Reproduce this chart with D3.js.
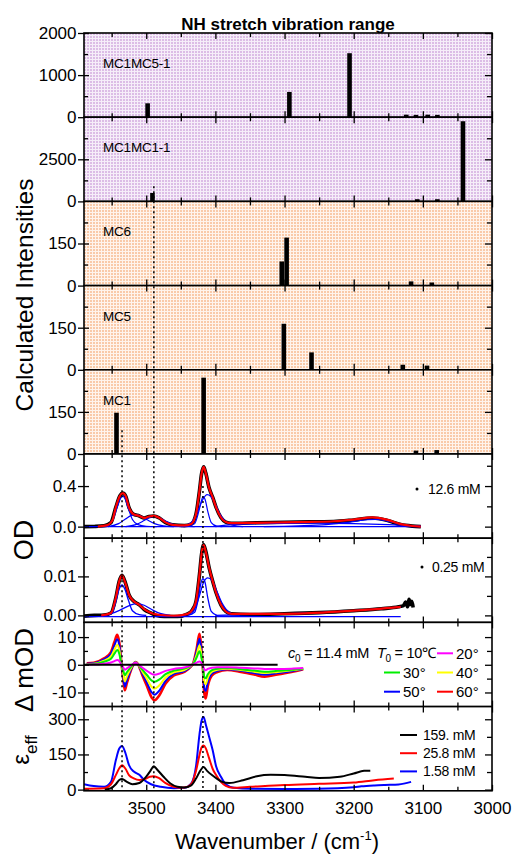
<!DOCTYPE html>
<html>
<head>
<meta charset="utf-8">
<script src="https://cdnjs.cloudflare.com/ajax/libs/d3/7.8.5/d3.min.js"></script>
<style>
body { margin: 0; background: #fff; }
svg { font-family: "Liberation Sans", Arial, sans-serif; }
</style>
</head>
<body>
<svg id="chart" width="514" height="856"></svg>
<script>
var xDomain = [3590, 3000];
var xMajor = [3500, 3400, 3300, 3200, 3100, 3000];
var xMinor = [3550, 3450, 3350, 3250, 3150, 3050];

// calculated stick spectra: [wavenumber, intensity]
var mc1mc5Bars = [[3498, 330], [3293, 600], [3206, 1520], [3124, 60], [3110, 55], [3093, 60], [3079, 55]];
var mc1mc1Bars = [[3491, 500], [3108, 130], [3079, 130], [3042, 4760]];
var mc6Bars = [[3304, 86], [3297, 171], [3117, 15], [3087, 11]];
var mc5Bars = [[3301, 164], [3261, 62], [3129, 18], [3094, 15]];
var mc1Bars = [[3543, 147], [3417, 272], [3110, 12], [3080, 14]];
var barNames = ["MC1MC5-1", "MC1MC1-1", "MC6", "MC5", "MC1"];

// OD, 12.6 mM
var od12Data = [[3590, 0.0], [3575, 0.002], [3561, 0.008], [3551, 0.04], [3544, 0.19], [3538, 0.305], [3534, 0.33], [3530, 0.305], [3525, 0.19], [3519, 0.125], [3510, 0.105], [3503, 0.085], [3496, 0.1], [3489, 0.105], [3481, 0.085], [3472, 0.04], [3462, 0.018], [3445, 0.01], [3435, 0.025], [3428, 0.125], [3423, 0.355], [3420, 0.52], [3417, 0.59], [3414, 0.53], [3409, 0.38], [3404, 0.29], [3399, 0.19], [3392, 0.09], [3385, 0.045], [3377, 0.032], [3340, 0.038], [3300, 0.043], [3260, 0.047], [3229, 0.05], [3200, 0.066], [3173, 0.085], [3151, 0.06], [3132, 0.02], [3115, 0.005], [3103, 0.0]];
var od12Fit = [[3570, 0.001], [3556, 0.015], [3549, 0.06], [3544, 0.19], [3538, 0.305], [3534, 0.33], [3530, 0.305], [3525, 0.19], [3519, 0.125], [3510, 0.105], [3503, 0.086], [3496, 0.1], [3489, 0.106], [3481, 0.086], [3472, 0.042], [3462, 0.018], [3445, 0.012], [3435, 0.027], [3428, 0.125], [3423, 0.355], [3420, 0.52], [3417, 0.59], [3414, 0.53], [3409, 0.38], [3404, 0.29], [3399, 0.19], [3392, 0.09], [3385, 0.045], [3377, 0.034], [3340, 0.038], [3300, 0.042], [3260, 0.047], [3229, 0.053], [3200, 0.07], [3173, 0.092], [3151, 0.066], [3132, 0.025], [3115, 0.006], [3103, 0.0]];
var od12Parts = [
  [[3565, 0], [3555, 0.015], [3548, 0.07], [3542, 0.19], [3537, 0.28], [3534, 0.3], [3531, 0.28], [3526, 0.18], [3520, 0.07], [3512, 0.02], [3500, 0.004], [3485, 0]],
  [[3555, 0], [3540, 0.03], [3530, 0.075], [3522, 0.108], [3516, 0.118], [3508, 0.105], [3498, 0.065], [3488, 0.03], [3475, 0.008], [3460, 0]],
  [[3530, 0], [3515, 0.02], [3503, 0.06], [3495, 0.09], [3489, 0.1], [3482, 0.09], [3472, 0.055], [3460, 0.02], [3445, 0.004], [3430, 0]],
  [[3440, 0], [3430, 0.03], [3424, 0.15], [3420, 0.26], [3418, 0.295], [3415, 0.27], [3411, 0.15], [3406, 0.04], [3398, 0.005], [3390, 0]],
  [[3450, 0], [3435, 0.04], [3425, 0.16], [3418, 0.27], [3412, 0.315], [3407, 0.3], [3400, 0.22], [3393, 0.12], [3385, 0.05], [3375, 0.015], [3360, 0]],
  [[3330, 0], [3280, 0.008], [3240, 0.02], [3205, 0.045], [3180, 0.068], [3168, 0.072], [3152, 0.055], [3135, 0.03], [3118, 0.01], [3103, 0]],
  [[3400, 0], [3385, 0.015], [3350, 0.028], [3300, 0.033], [3250, 0.035], [3200, 0.03], [3150, 0.02], [3103, 0.005]],
  [[3590, 0], [3103, 0]]
];

// OD, 0.25 mM
var od025Data = [[3590, -0.0002], [3575, 0.0], [3561, 0.0001], [3551, 0.0006], [3544, 0.0045], [3539, 0.0088], [3535, 0.0103], [3530, 0.0083], [3525, 0.0053], [3518, 0.0036], [3510, 0.0027], [3503, 0.0015], [3493, 0.0006], [3486, 0.0], [3474, -0.0003], [3455, -0.0003], [3440, 0.0004], [3433, 0.0015], [3428, 0.0036], [3423, 0.0105], [3420, 0.0157], [3417, 0.0181], [3414, 0.0165], [3409, 0.0122], [3404, 0.0088], [3399, 0.0058], [3392, 0.0027], [3385, 0.001], [3377, 0.0004], [3350, 0.0002], [3300, 0.0004], [3250, 0.0007], [3200, 0.0012], [3160, 0.0017], [3135, 0.0022], [3128, 0.0025], [3125, 0.0034], [3122, 0.0022], [3120, 0.0041], [3118, 0.0028], [3116, 0.0036], [3114, 0.002]];
var od025Fit = [[3565, 0], [3551, 0.0006], [3544, 0.0045], [3539, 0.0088], [3535, 0.0102], [3530, 0.0082], [3525, 0.0053], [3518, 0.0036], [3510, 0.0027], [3503, 0.0016], [3493, 0.0006], [3480, 0.0001], [3460, -0.0001], [3440, 0.0004], [3433, 0.0015], [3428, 0.0036], [3423, 0.0105], [3420, 0.0157], [3417, 0.018], [3414, 0.0164], [3409, 0.0122], [3404, 0.0088], [3399, 0.0058], [3392, 0.0027], [3385, 0.001], [3377, 0.0004], [3300, 0.0004], [3200, 0.0012], [3132, 0.0022]];
var od025Parts = [
  [[3560, 0], [3550, 0.0005], [3544, 0.0035], [3539, 0.0068], [3535, 0.0078], [3531, 0.0068], [3526, 0.004], [3520, 0.0012], [3510, 0.0002], [3500, 0]],
  [[3565, 0], [3550, 0.0005], [3535, 0.0016], [3522, 0.0027], [3513, 0.003], [3503, 0.0026], [3492, 0.0015], [3480, 0.0005], [3465, 0]],
  [[3440, 0], [3430, 0.0008], [3425, 0.004], [3421, 0.0082], [3418, 0.0094], [3415, 0.0085], [3411, 0.0045], [3406, 0.001], [3398, 0]],
  [[3445, 0], [3432, 0.001], [3424, 0.0045], [3417, 0.0085], [3411, 0.0096], [3405, 0.009], [3398, 0.0062], [3390, 0.003], [3380, 0.0008], [3365, 0]],
  [[3400, 0], [3350, 0.0002], [3300, 0.0004], [3250, 0.0007], [3200, 0.0012], [3132, 0.0022]],
  [[3590, -0.0003], [3132, -0.0003]]
];

// difference spectra, mOD
var dT20 = [[3586, 0.1], [3576, 0.1], [3561, 0.4], [3551, 0.8], [3546, 1.3], [3542, 1.7], [3539, 1.3], [3536, 0.1], [3533, -1.1], [3531, -1.8], [3528, -1.3], [3523, -0.4], [3518, 0.5], [3516, 0.8], [3512, 0.2], [3506, -1.0], [3499, -2.2], [3492, -3.3], [3488, -3.6], [3481, -3.2], [3472, -2.2], [3460, -1.5], [3445, -1.0], [3436, -0.3], [3432, 0.2], [3427, 0.8], [3423, 1.2], [3421, 0.9], [3418, -0.3], [3416, -1.7], [3414, -2.0], [3411, -1.5], [3405, -1.1], [3397, -0.9], [3383, -0.9], [3363, -1.1], [3344, -1.3], [3329, -1.5], [3310, -1.5], [3290, -1.4], [3273, -1.2]];
var dT30 = [[3586, 0.2], [3576, 0.3], [3561, 1.1], [3551, 2.2], [3546, 4.0], [3542, 5.3], [3539, 4.0], [3536, 0.3], [3533, -2.3], [3531, -3.8], [3528, -2.7], [3523, -1.0], [3518, 0.5], [3516, 0.9], [3512, 0.2], [3506, -1.7], [3499, -3.7], [3492, -5.7], [3488, -6.1], [3481, -5.3], [3472, -3.4], [3460, -2.1], [3445, -1.4], [3436, -0.4], [3432, 0.3], [3427, 2.7], [3423, 4.9], [3421, 3.6], [3418, -0.7], [3416, -4.4], [3414, -4.9], [3411, -3.4], [3405, -1.9], [3397, -1.4], [3383, -1.2], [3363, -1.6], [3344, -2.1], [3329, -2.5], [3310, -2.2], [3290, -1.8], [3273, -1.3]];
var dT40 = [[3586, 0.3], [3576, 0.4], [3561, 1.5], [3551, 3.0], [3546, 5.5], [3542, 7.2], [3539, 5.4], [3536, 0.4], [3533, -3.6], [3531, -6.0], [3528, -4.2], [3523, -1.6], [3518, 0.4], [3516, 0.9], [3512, 0.2], [3506, -2.3], [3499, -5.1], [3492, -8.0], [3488, -8.6], [3481, -7.4], [3472, -4.6], [3460, -2.7], [3445, -1.9], [3436, -0.5], [3432, 0.4], [3427, 3.8], [3423, 7.0], [3421, 5.0], [3418, -1.0], [3416, -6.3], [3414, -7.0], [3411, -4.7], [3405, -2.5], [3397, -1.8], [3383, -1.4], [3363, -1.9], [3344, -2.5], [3329, -3.0], [3310, -2.6], [3290, -2.0], [3273, -1.4]];
var dT50 = [[3586, 0.4], [3576, 0.6], [3561, 2.0], [3551, 4.0], [3546, 7.0], [3542, 9.2], [3539, 7.0], [3536, 0.6], [3533, -4.8], [3531, -7.9], [3528, -5.6], [3523, -2.2], [3518, 0.3], [3516, 0.9], [3512, 0.2], [3506, -3.0], [3499, -6.5], [3492, -10.0], [3488, -10.8], [3481, -9.3], [3472, -5.8], [3460, -3.3], [3445, -2.3], [3436, -0.7], [3432, 0.5], [3427, 5.0], [3423, 9.4], [3421, 6.8], [3418, -1.4], [3416, -8.6], [3414, -9.5], [3411, -6.3], [3405, -3.2], [3397, -2.2], [3383, -1.6], [3363, -2.2], [3344, -3.0], [3329, -3.6], [3310, -3.0], [3290, -2.3], [3273, -1.5]];
var dT60 = [[3586, 0.5], [3576, 0.7], [3561, 2.3], [3551, 4.6], [3546, 8.2], [3542, 10.8], [3539, 8.1], [3536, 0.9], [3533, -5.6], [3531, -9.2], [3528, -6.6], [3523, -2.6], [3518, 0.3], [3516, 1.0], [3512, 0.3], [3506, -3.5], [3499, -7.7], [3492, -11.9], [3488, -12.8], [3481, -11.0], [3472, -6.8], [3460, -3.8], [3445, -2.6], [3436, -0.8], [3432, 0.6], [3427, 5.9], [3423, 11.2], [3421, 8.0], [3418, -1.7], [3416, -10.4], [3414, -12.2], [3411, -7.7], [3405, -3.8], [3397, -2.6], [3383, -1.9], [3363, -2.6], [3344, -3.5], [3329, -4.3], [3310, -3.5], [3290, -2.6], [3273, -1.6]];
var dZero = [[3590, 0], [3310, 0]];
var tempLabels = ["20°", "30°", "40°", "50°", "60°"];
var tempColors = ["#ff00ff", "#00ee00", "#ffff00", "#0000ff", "#ff0000"];
var tempSeries = [dT20, dT30, dT40, dT50, dT60];

// effective extinction
var eps159 = [[3560, 0], [3551, 6], [3544, 23], [3539, 41], [3535, 45], [3528, 33], [3520, 23], [3510, 28], [3500, 55], [3494, 80], [3489, 100], [3484, 85], [3475, 55], [3465, 26], [3455, 12], [3445, 9], [3435, 18], [3428, 47], [3422, 80], [3417, 96], [3412, 80], [3405, 62], [3398, 47], [3390, 33], [3380, 28], [3360, 40], [3340, 57], [3320, 63], [3300, 62], [3270, 55], [3250, 50], [3220, 55], [3200, 69], [3185, 80], [3176, 81]];
var eps258 = [[3590, 4], [3561, 6], [3551, 23], [3544, 62], [3539, 91], [3535, 104], [3530, 89], [3525, 62], [3518, 48], [3510, 41], [3500, 47], [3495, 55], [3489, 57], [3482, 50], [3472, 28], [3460, 12], [3450, 8], [3440, 12], [3433, 33], [3428, 80], [3423, 148], [3420, 180], [3417, 188], [3414, 177], [3409, 133], [3404, 89], [3399, 62], [3392, 33], [3385, 16], [3375, 8], [3350, 12], [3300, 20], [3250, 25], [3200, 30], [3170, 40], [3142, 47]];
var eps158 = [[3590, 23], [3576, 15], [3561, 12], [3551, 33], [3544, 125], [3539, 175], [3535, 186], [3530, 155], [3525, 105], [3518, 77], [3510, 63], [3503, 41], [3493, 23], [3479, 12], [3460, 6], [3445, 8], [3435, 26], [3428, 100], [3423, 236], [3420, 294], [3417, 310], [3414, 279], [3409, 224], [3404, 169], [3399, 100], [3392, 55], [3385, 23], [3373, 8], [3348, 4], [3300, 3], [3252, 4], [3200, 10], [3189, 14], [3170, 18], [3155, 20], [3135, 22], [3117, 33]];
var concLabels = ["159. mM", "25.8 mM", "1.58 mM"];
var concColors = ["#000000", "#ff0000", "#0000ff"];
var concSeries = [eps159, eps258, eps158];

var guideWavenumbers = [3535, 3489, 3418];

var LEFT = 84, RIGHT = 492, TOP = 33, PANEL_H = 84.2;
var svg = d3.select("#chart");
var x = d3.scaleLinear().domain(xDomain).range([LEFT, RIGHT]);
var defs = svg.append("defs");

function addPattern(id, base, dot) {
    var p = defs.append("pattern").attr("id", id)
        .attr("patternUnits", "userSpaceOnUse")
        .attr("width", 3).attr("height", 3);
    p.append("rect").attr("width", 3).attr("height", 3).attr("fill", base);
    p.append("rect").attr("width", 2).attr("height", 2).attr("fill", dot);
}
addPattern("lilac", "#f6eef9", "#dcbde6");
addPattern("peach", "#fff4ec", "#f9caa9");

var panels = [];
function makePanel(domain, fill, major, minor, fmt) {
    var i = panels.length;
    var y0 = TOP + i * PANEL_H, y1 = y0 + PANEL_H;
    var y = d3.scaleLinear().domain(domain).range([y1, y0]);
    var g = svg.append("g");
    g.append("rect").attr("x", LEFT).attr("y", y0)
        .attr("width", RIGHT - LEFT).attr("height", PANEL_H)
        .attr("fill", fill);
    defs.append("clipPath").attr("id", "clip" + i)
        .append("rect").attr("x", LEFT).attr("y", y0)
        .attr("width", RIGHT - LEFT).attr("height", PANEL_H);
    var plot = g.append("g").attr("clip-path", "url(#clip" + i + ")");
    var p = {g: g, plot: plot, y: y, y0: y0, y1: y1, major: major, minor: minor, fmt: fmt};
    panels.push(p);
    return p;
}

function drawBars(p, bars) {
    p.plot.selectAll(".bar").data(bars).enter().append("rect")
        .attr("x", function (d) { return x(d[0]) - 2.3; })
        .attr("width", 4.6)
        .attr("y", function (d) { return p.y(d[1]); })
        .attr("height", function (d) { return p.y(0) - p.y(d[1]); })
        .attr("fill", "#000");
}

function drawCurve(p, data, color, width) {
    var line = d3.line()
        .x(function (d) { return x(d[0]); })
        .y(function (d) { return p.y(d[1]); })
        .curve(d3.curveMonotoneX);
    p.plot.append("path").datum(data)
        .attr("d", line)
        .attr("fill", "none")
        .attr("stroke", color)
        .attr("stroke-width", width)
        .attr("stroke-linejoin", "round");
}

function ticks(g, axis, transform, values, size) {
    var a = g.append("g").attr("transform", transform)
        .call(axis.tickValues(values).tickSize(size).tickFormat(""));
    a.select(".domain").remove();
    a.selectAll("line").attr("stroke", "#000").attr("stroke-width", 1.3);
}

function drawFrame(p) {
    var g = p.g;
    ticks(g, d3.axisBottom(x), "translate(0," + p.y0 + ")", xMajor, 6);
    ticks(g, d3.axisBottom(x), "translate(0," + p.y0 + ")", xMinor, 4);
    ticks(g, d3.axisTop(x), "translate(0," + p.y1 + ")", xMajor, 6);
    ticks(g, d3.axisTop(x), "translate(0," + p.y1 + ")", xMinor, 4);
    ticks(g, d3.axisRight(p.y), "translate(" + LEFT + ",0)", p.major, 5);
    ticks(g, d3.axisRight(p.y), "translate(" + LEFT + ",0)", p.minor, 4);
    ticks(g, d3.axisLeft(p.y), "translate(" + RIGHT + ",0)", p.major, 7);
    ticks(g, d3.axisLeft(p.y), "translate(" + RIGHT + ",0)", p.minor, 5);
    var lab = g.append("g").attr("transform", "translate(" + LEFT + ",0)")
        .call(d3.axisLeft(p.y).tickValues(p.major).tickSize(6).tickPadding(1.5).tickFormat(p.fmt));
    lab.select(".domain").remove();
    lab.attr("font-size", 17).attr("font-family", null);
    lab.selectAll("line").attr("stroke-width", 1.3);
    g.append("rect").attr("x", LEFT).attr("y", p.y0)
        .attr("width", RIGHT - LEFT).attr("height", PANEL_H)
        .attr("fill", "none").attr("stroke", "#000").attr("stroke-width", 1.6);
}

var plain = function (d) { return String(d); };

// stick spectra panels
var barSets = [mc1mc5Bars, mc1mc1Bars, mc6Bars, mc5Bars, mc1Bars];
var barPanels = [
    makePanel([0, 2000], "url(#lilac)", [0, 1000, 2000], [500, 1500], plain),
    makePanel([0, 5000], "url(#lilac)", [0, 2500], [1250, 3750], plain),
    makePanel([0, 300], "url(#peach)", [0, 150], [75, 225], plain),
    makePanel([0, 300], "url(#peach)", [0, 150], [75, 225], plain),
    makePanel([0, 300], "url(#peach)", [0, 150], [75, 225], plain)
];
barPanels.forEach(function (p, i) {
    drawBars(p, barSets[i]);
    p.g.append("text").attr("x", 103).attr("y", p.y0 + 35)
        .attr("font-size", 13.5).attr("letter-spacing", -0.2)
        .text(barNames[i]);
});

// OD 12.6 mM
var pOd12 = makePanel([-0.114, 0.716], "#fff", [0, 0.4], [0.2, 0.6], d3.format(".1f"));
drawCurve(pOd12, od12Data, "#000", 3.6);
od12Parts.forEach(function (d) { drawCurve(pOd12, d, "#0000ff", 1.2); });
drawCurve(pOd12, od12Fit, "#ff0000", 2.2);

// OD 0.25 mM
var pOd025 = makePanel([-0.0018, 0.0198], "#fff", [0, 0.01], [0.005, 0.015], d3.format(".2f"));
drawCurve(pOd025, od025Data, "#000", 3.6);
od025Parts.forEach(function (d) { drawCurve(pOd025, d, "#0000ff", 1.3); });
drawCurve(pOd025, od025Fit, "#ff0000", 2.2);

// delta mOD
var pDelta = makePanel([-15.1, 15.3], "#fff", [-10, 0, 10], [-5, 5], plain);
for (var k = tempSeries.length - 1; k >= 0; k--) {
    drawCurve(pDelta, tempSeries[k], tempColors[k], k == 4 ? 2.6 : 2);
}
drawCurve(pDelta, dZero, "#000", 2);

// epsilon eff
var pEps = makePanel([-5, 354], "#fff", [0, 150, 300], [75, 225], plain);
for (var j = concSeries.length - 1; j >= 0; j--) {
    drawCurve(pEps, concSeries[j], concColors[j], 2);
}

// dotted guide lines
var guideStart = [
    barPanels[4].y(85),
    barPanels[1].y(900),
    pOd12.y(0.4)
];
svg.selectAll(".guide").data(guideWavenumbers).enter().append("line")
    .attr("x1", function (d) { return x(d); })
    .attr("x2", function (d) { return x(d); })
    .attr("y1", function (d, i) { return guideStart[i]; })
    .attr("y2", pEps.y1)
    .attr("stroke", "#000")
    .attr("stroke-width", 1.5)
    .attr("stroke-dasharray", "2,3");

panels.forEach(drawFrame);

// bottom axis labels
var xLab = svg.append("g").attr("transform", "translate(0," + pEps.y1 + ")")
    .call(d3.axisBottom(x).tickValues(xMajor).tickSize(0).tickPadding(11).tickFormat(plain));
xLab.select(".domain").remove();
xLab.attr("font-size", 17).attr("font-family", null);

// legends
svg.append("circle").attr("cx", 417).attr("cy", 489).attr("r", 1.5).attr("fill", "#000");
svg.append("text").attr("x", 428).attr("y", 494).attr("font-size", 14).attr("letter-spacing", -0.3).text("12.6 mM");
svg.append("circle").attr("cx", 422).attr("cy", 567).attr("r", 1.5).attr("fill", "#000");
svg.append("text").attr("x", 432).attr("y", 572).attr("font-size", 14).attr("letter-spacing", -0.3).text("0.25 mM");

var c0 = svg.append("text").attr("x", 288).attr("y", 658).attr("font-size", 14.5).attr("letter-spacing", -0.3);
c0.append("tspan").attr("font-style", "italic").text("c");
c0.append("tspan").attr("font-size", 10).attr("dy", 4).text("0");
c0.append("tspan").attr("dy", -4).text(" = 11.4 mM");
var t0 = svg.append("text").attr("x", 377).attr("y", 658).attr("font-size", 14.5).attr("letter-spacing", -0.3);
t0.append("tspan").attr("font-style", "italic").text("T");
t0.append("tspan").attr("font-size", 10).attr("dy", 4).text("0");
t0.append("tspan").attr("dy", -4).text(" = 10\u2103");

tempLabels.forEach(function (label, i) {
    var slot = i + 1;
    var lx = 384 + (slot % 2) * 53, ly = 653.3 + Math.floor(slot / 2) * 19.2;
    svg.append("line").attr("x1", lx).attr("x2", lx + 16).attr("y1", ly).attr("y2", ly)
        .attr("stroke", tempColors[i]).attr("stroke-width", 2);
    svg.append("text").attr("x", lx + 19).attr("y", ly + 5.5).attr("font-size", 15).text(label);
});

concLabels.forEach(function (label, i) {
    var ly = 735 + i * 18.2;
    svg.append("line").attr("x1", 400).attr("x2", 417).attr("y1", ly).attr("y2", ly)
        .attr("stroke", concColors[i]).attr("stroke-width", 2);
    svg.append("text").attr("x", 423).attr("y", ly + 5).attr("font-size", 14).attr("letter-spacing", -0.3).text(label);
});

// titles
svg.append("text").attr("x", 288).attr("y", 30).attr("text-anchor", "middle")
    .attr("font-size", 17).attr("font-weight", "bold").text("NH stretch vibration range");

function yTitle(cx, cy, size, txt) {
    return svg.append("text").attr("transform", "translate(" + cx + "," + cy + ") rotate(-90)")
        .attr("text-anchor", "middle").attr("font-size", size).text(txt);
}
yTitle(33, 295, 24.5, "Calculated Intensities");
yTitle(33, 540, 27, "OD");
yTitle(33, 670, 26, "\u0394 mOD");
var eps = svg.append("text").attr("transform", "translate(29,750) rotate(-90)")
    .attr("text-anchor", "middle").attr("font-size", 24);
eps.append("tspan").text("\u03b5");
eps.append("tspan").attr("font-size", 17).attr("dy", 8).text("eff");

var xt = svg.append("text").attr("x", 277).attr("y", 849).attr("text-anchor", "middle").attr("font-size", 22);
xt.append("tspan").text("Wavenumber / (cm");
xt.append("tspan").attr("font-size", 13).attr("dy", -9).text("-1");
xt.append("tspan").attr("dy", 9).text(")");
</script>
</body>
</html>
